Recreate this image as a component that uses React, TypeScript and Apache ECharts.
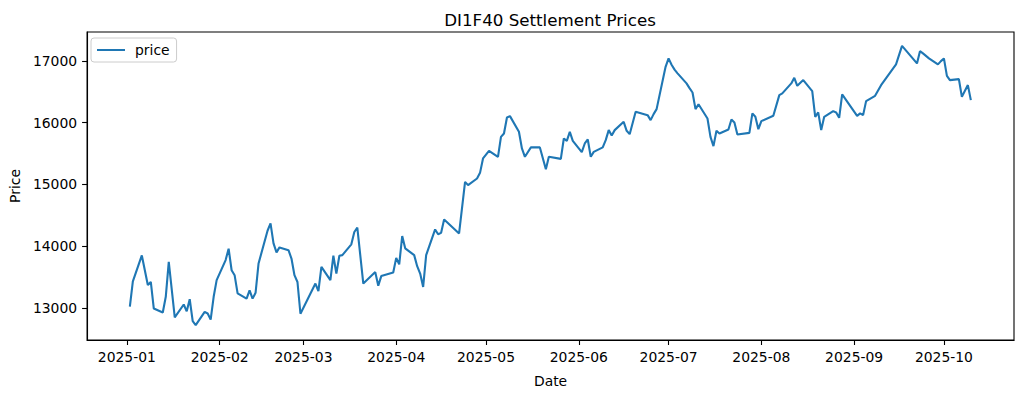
import { useEffect, useRef } from 'react';
import * as echarts from 'echarts';

const dates = [
  '2025-01-02', '2025-01-03', '2025-01-06', '2025-01-08', '2025-01-09', '2025-01-10', '2025-01-13', '2025-01-14',
  '2025-01-15', '2025-01-17', '2025-01-20', '2025-01-21', '2025-01-22', '2025-01-23', '2025-01-24', '2025-01-27',
  '2025-01-28', '2025-01-29', '2025-01-30', '2025-01-31',
  '2025-02-03', '2025-02-04', '2025-02-05', '2025-02-06', '2025-02-07', '2025-02-10', '2025-02-11', '2025-02-12',
  '2025-02-13', '2025-02-14', '2025-02-17', '2025-02-18', '2025-02-19', '2025-02-20', '2025-02-21', '2025-02-24',
  '2025-02-25', '2025-02-26', '2025-02-27', '2025-02-28',
  '2025-03-05', '2025-03-06', '2025-03-07', '2025-03-10', '2025-03-11', '2025-03-12', '2025-03-13', '2025-03-14',
  '2025-03-17', '2025-03-18', '2025-03-19', '2025-03-21', '2025-03-25', '2025-03-26', '2025-03-27', '2025-03-31',
  '2025-04-01', '2025-04-02', '2025-04-03', '2025-04-04', '2025-04-07', '2025-04-08', '2025-04-09', '2025-04-10',
  '2025-04-11', '2025-04-14', '2025-04-15', '2025-04-16', '2025-04-17', '2025-04-22', '2025-04-24', '2025-04-25',
  '2025-04-28', '2025-04-29', '2025-04-30',
  '2025-05-02', '2025-05-05', '2025-05-06', '2025-05-07', '2025-05-08', '2025-05-09', '2025-05-12', '2025-05-13',
  '2025-05-14', '2025-05-16', '2025-05-19', '2025-05-21', '2025-05-22', '2025-05-26', '2025-05-27', '2025-05-28',
  '2025-05-29', '2025-05-30',
  '2025-06-02', '2025-06-03', '2025-06-04', '2025-06-05', '2025-06-06', '2025-06-09', '2025-06-10', '2025-06-11',
  '2025-06-12', '2025-06-13', '2025-06-16', '2025-06-17', '2025-06-18', '2025-06-20', '2025-06-24', '2025-06-25',
  '2025-06-26', '2025-06-27', '2025-06-30',
  '2025-07-01', '2025-07-02', '2025-07-03', '2025-07-04', '2025-07-07', '2025-07-08', '2025-07-09', '2025-07-10',
  '2025-07-11', '2025-07-14', '2025-07-15', '2025-07-16', '2025-07-17', '2025-07-18', '2025-07-21', '2025-07-22',
  '2025-07-23', '2025-07-24', '2025-07-28', '2025-07-29', '2025-07-30', '2025-07-31',
  '2025-08-01', '2025-08-05', '2025-08-07', '2025-08-08', '2025-08-11', '2025-08-12', '2025-08-13', '2025-08-15',
  '2025-08-18', '2025-08-19', '2025-08-20', '2025-08-21', '2025-08-22', '2025-08-25', '2025-08-26', '2025-08-27',
  '2025-08-28',
  '2025-09-02', '2025-09-03', '2025-09-04', '2025-09-05', '2025-09-08', '2025-09-10', '2025-09-15', '2025-09-17',
  '2025-09-22', '2025-09-23', '2025-09-24', '2025-09-26', '2025-09-29', '2025-09-30',
  '2025-10-01', '2025-10-02', '2025-10-03', '2025-10-06', '2025-10-07', '2025-10-09', '2025-10-10',
];

const prices = [
  13020, 13430, 13850, 13370, 13420, 12990, 12925, 13180,
  13745, 12845, 13055, 12945, 13140, 12785, 12720, 12935,
  12910, 12810, 13180, 13450,
  13775, 13960, 13610, 13530, 13235, 13150, 13285, 13150,
  13245, 13720, 14250, 14370, 14045, 13900, 13980, 13935,
  13800, 13530, 13420, 12905,
  13395, 13270, 13665, 13450, 13845, 13555, 13845, 13855,
  14030, 14230, 14300, 13395, 13580, 13360, 13515, 13575,
  13810, 13705, 14165, 13965, 13855, 13676, 13557, 13340,
  13854, 14271, 14194, 14216, 14433, 14206, 15042, 14989,
  15097, 15188, 15421,
  15545, 15448, 15771, 15826, 16085, 16107, 15853, 15583,
  15448, 15600, 15600, 15245, 15448, 15415, 15745, 15707,
  15853, 15707,
  15523, 15664, 15729, 15448, 15528, 15600, 15718, 15880,
  15794, 15880, 16015, 15869, 15815, 16177, 16123, 16042,
  16139, 16220, 16906,
  17042, 16940, 16860, 16800, 16637, 16560, 16490, 16220,
  16300, 16069, 15771, 15621, 15869, 15826, 15891, 16053,
  16005, 15810, 15836, 16151, 16096, 15896,
  16026, 16112, 16447, 16475, 16637, 16728, 16598, 16691,
  16512, 16096, 16167, 15880, 16096, 16188, 16167, 16080,
  16459,
  16112, 16151, 16123, 16350, 16436, 16609, 16945, 17246,
  16961, 17160, 17123, 17042, 16945, 16998,
  17042, 16760, 16690, 16707, 16420, 16610, 16366,
];

const xTickLabels = [
  '2025-01', '2025-02', '2025-03', '2025-04', '2025-05',
  '2025-06', '2025-07', '2025-08', '2025-09', '2025-10',
];
const yTicks = [13000, 14000, 15000, 16000, 17000];

const FONT = 'DejaVu Sans';

function toTime(s: string): number {
  const [y, m, d] = s.split('-').map(Number);
  return new Date(y, m - 1, d || 1).getTime();
}

export default function App() {
  const ref = useRef<HTMLDivElement>(null);

  useEffect(() => {
    if (!ref.current) return;
    const chart = echarts.init(ref.current, null, { renderer: 'svg' });
    const monthTicks = xTickLabels.map((s) => toTime(s));
    const xMin = new Date(2024, 11, 18, 17).getTime();
    const xMax = new Date(2025, 9, 24, 10).getTime();

    chart.setOption({
      animation: false,
      backgroundColor: '#ffffff',
      title: {
        text: 'DI1F40 Settlement Prices',
        left: 545,
        top: 6,
        textAlign: 'center',
        textStyle: { fontFamily: FONT, fontSize: 16.7, fontWeight: 'normal', color: '#000' },
      },
      legend: {
        show: true,
        left: 91,
        top: 38,
        orient: 'vertical',
        padding: [5, 7, 5, 6],
        itemWidth: 28,
        itemHeight: 2,
        icon: 'rect',
        borderColor: '#cccccc',
        borderWidth: 1,
        borderRadius: 3,
        backgroundColor: 'rgba(255,255,255,0.8)',
        textStyle: { fontFamily: FONT, fontSize: 13.9, color: '#000', padding: [0, 0, 0, 5] },
        data: ['price'],
      },
      grid: {
        left: 83,
        right: 9,
        top: 32,
        bottom: 53,
        show: true,
        borderColor: '#000',
        borderWidth: 1.1,
        backgroundColor: 'transparent',
      },
      xAxis: {
        type: 'value',
        min: xMin,
        max: xMax,
        name: 'Date',
        nameLocation: 'middle',
        nameGap: 34,
        nameTextStyle: { fontFamily: FONT, fontSize: 13.9, color: '#000' },
        axisLine: { show: true, lineStyle: { color: '#000', width: 1.1 } },
        axisTick: { show: true, length: 5, lineStyle: { color: '#000', width: 1.1 }, customValues: monthTicks },
        axisLabel: {
          customValues: monthTicks,
          margin: 10,
          fontFamily: FONT,
          fontSize: 13.9,
          color: '#000',
          formatter: (v: number) => {
            const i = monthTicks.indexOf(v);
            if (i >= 0) return xTickLabels[i];
            const d = new Date(v);
            return `${d.getFullYear()}-${String(d.getMonth() + 1).padStart(2, '0')}`;
          },
        },
        splitLine: { show: false },
      },
      yAxis: {
        type: 'value',
        min: 12480,
        max: 17470,
        name: 'Price',
        nameLocation: 'middle',
        nameRotate: 90,
        nameGap: 58,
        nameTextStyle: { fontFamily: FONT, fontSize: 13.9, color: '#000' },
        axisLine: { show: true, lineStyle: { color: '#000', width: 1.1 } },
        axisTick: { show: true, length: 5, lineStyle: { color: '#000', width: 1.1 }, customValues: yTicks },
        axisLabel: {
          customValues: yTicks,
          margin: 10,
          fontFamily: FONT,
          fontSize: 13.9,
          color: '#000',
          formatter: (v: number) => String(v),
        },
        splitLine: { show: false },
      },
      series: [
        {
          type: 'line',
          name: 'price',
          data: dates.map((d, i) => [toTime(d), prices[i]]),
          showSymbol: false,
          symbol: 'none',
          lineStyle: { color: '#1f77b4', width: 2.1 },
          itemStyle: { color: '#1f77b4' },
        },
      ],
    });

    return () => chart.dispose();
  }, []);

  return <div ref={ref} style={{ position: 'fixed', left: 0, top: 0, width: 1023, height: 393 }} />;
}
